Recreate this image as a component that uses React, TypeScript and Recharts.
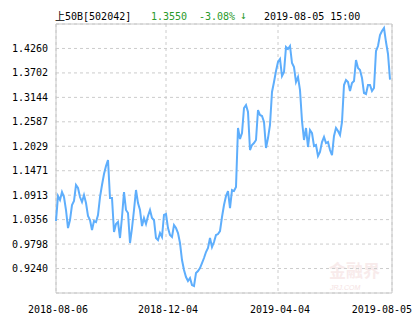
import React from 'react';
import { LineChart, Line, XAxis, YAxis, CartesianGrid, ReferenceArea } from 'recharts';

// daily close, 2018-08-06 .. 2019-08-05 (sampled)
const closes = [
  1.0324, 1.0894, 1.0803, 1.0985, 1.0871, 1.0575, 1.0164, 1.0346, 1.0689, 1.0780,
  1.1145, 1.1077, 1.0871, 1.0757, 1.0917, 1.0734, 1.0438, 1.0346, 1.0118, 1.0324,
  1.0301, 1.0461, 1.0871, 1.1145, 1.1396, 1.1578, 1.1715, 1.0848, 1.0848, 1.0073,
  1.0255, 1.0301, 0.9936, 1.0415, 1.0985, 1.0575, 1.0506, 0.9822, 1.0164, 1.0575,
  1.1031, 1.0734, 1.0575, 1.0210, 1.0392, 1.0255, 1.0438, 1.0575, 1.0392, 1.0346,
  0.9936, 0.9890, 1.0050, 0.9959, 1.0461, 1.0483, 1.0164, 1.0004, 0.9959, 1.0232,
  1.0164, 1.0050, 0.9822, 0.9434, 0.9206, 0.9046, 0.8955, 0.9023, 0.8864, 0.8841,
  0.9137, 0.9183, 0.9251, 0.9365, 0.9480, 0.9616, 0.9708, 0.9936, 0.9730, 0.9845,
  1.0004, 1.0027, 1.0096, 1.0415, 1.0689, 1.0894, 1.1008, 1.0620, 1.1031, 1.1008,
  1.1099, 1.2445, 1.2194, 1.2331, 1.2902, 1.2970, 1.2810, 1.1943, 1.2058, 1.2103,
  1.2172, 1.2856, 1.2742, 1.2719, 1.2582, 1.1989, 1.2217, 1.2514, 1.3267, 1.3495,
  1.3746, 1.3951, 1.4020, 1.3632, 1.3723, 1.4293, 1.4248, 1.4316, 1.3928, 1.3837,
  1.3495, 1.3609, 1.3312, 1.2605, 1.2172, 1.2445, 1.2012, 1.2400, 1.2331, 1.2035,
  1.2058, 1.1807, 1.1898, 1.2126, 1.2240, 1.2103, 1.2126, 1.1943, 1.1829, 1.2263,
  1.2445, 1.2377, 1.2286, 1.2582, 1.3426, 1.3540, 1.3495, 1.3290, 1.3472, 1.3518,
  1.3997, 1.3814, 1.3769, 1.3586, 1.3244, 1.3221, 1.3426, 1.3426, 1.3290, 1.3358,
  1.4202, 1.4316, 1.4567, 1.4658, 1.4727, 1.4407, 1.4134, 1.3550,
];

const yTicks = [0.924, 0.9798, 1.0356, 1.0913, 1.1471, 1.2029, 1.2587, 1.3144, 1.3702, 1.426];
const yDomain = [0.8682, 1.4818];

const xTickPos = [0, 55, 111, 168];
const xTickLabels = ['2018-08-06', '2018-12-04', '2019-04-04', '2019-08-05'];

const data = closes.map((v, i) => ({ i, v }));

const font = "'DejaVu Sans Mono', 'Noto Sans CJK SC', monospace";

const XTick = (props: any) => {
  const { x, y, payload } = props;
  const idx = xTickPos.indexOf(payload.value);
  const last = idx === xTickPos.length - 1;
  return (
    <text x={last ? x + 20 : x + 2} y={y + 12} textAnchor={last ? 'end' : 'middle'}
      fontSize={10} fontFamily={font} fill="#000">
      {xTickLabels[idx]}
    </text>
  );
};

export default function App() {
  return (
    <div style={{ position: 'fixed', left: 0, top: 0, width: 415, height: 330, background: '#fff' }}>
      <div style={{ position: 'absolute', top: 10, left: 0, fontFamily: font, fontSize: 10, lineHeight: '13px', whiteSpace: 'pre' }}>
        <span style={{ position: 'absolute', left: 55, color: '#000' }}>上50B[502042]</span>
        <span style={{ position: 'absolute', left: 151, color: '#2a9a2a' }}>1.3550</span>
        <span style={{ position: 'absolute', left: 199, color: '#2a9a2a' }}>-3.08%</span>
        <span style={{ position: 'absolute', left: 240, top: -1, color: '#2a9a2a', fontSize: 11 }}>↓</span>
        <span style={{ position: 'absolute', left: 264, color: '#000' }}>2019-08-05 15:00</span>
      </div>
      <div style={{ position: 'absolute', left: 329, top: 261, color: '#f8ebeb', fontFamily: "'Noto Sans CJK SC'", fontSize: 17, lineHeight: '17px', fontWeight: 700 }}>金融界</div>
      <div style={{ position: 'absolute', left: 330, top: 284, color: '#f5e3e3', fontFamily: 'Arial, sans-serif', fontSize: 7, lineHeight: '7px', fontStyle: 'italic' }}>JRJ.COM</div>
      <LineChart width={415} height={330} data={data}
        margin={{ top: 24, right: 23, left: 0, bottom: 7 }}>
        <CartesianGrid stroke="#cccccc" strokeDasharray="3 3" />
        <ReferenceArea x1={0} x2={168} y1={yDomain[0]} y2={yDomain[1]} fill="none" stroke="#c8c8c8" strokeWidth={1} />
        <XAxis dataKey="i" type="number" domain={[0, 168]} ticks={xTickPos} interval={0}
          axisLine={false} tickLine={false} height={30} tick={<XTick />} />
        <YAxis type="number" domain={yDomain} ticks={yTicks} interval={0} width={56}
          axisLine={false} tickLine={false} tickFormatter={(v: number) => v.toFixed(4)}
          tick={{ fontSize: 10, fontFamily: font, fill: '#000' }} tickMargin={2} />
        <Line dataKey="v" stroke="#5eaefc" strokeWidth={2} dot={false} isAnimationActive={false} />
      </LineChart>
    </div>
  );
}
